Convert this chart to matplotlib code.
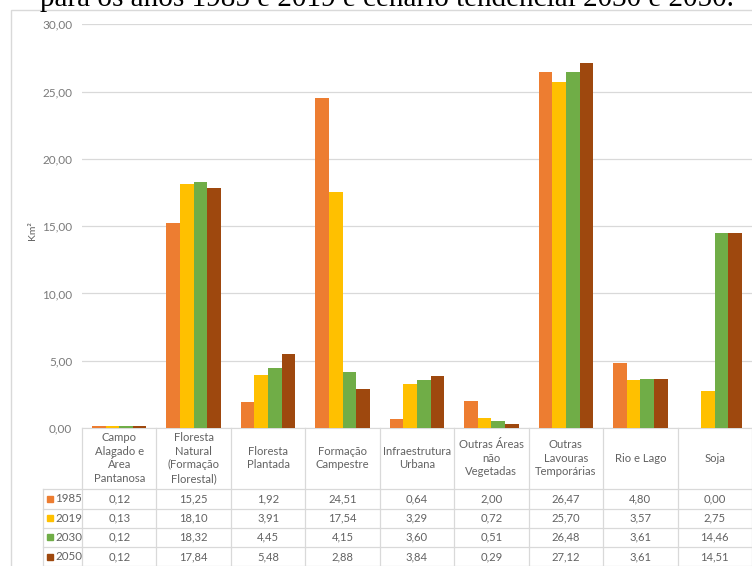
import numpy as np
import matplotlib
matplotlib.use("Agg")
import matplotlib.pyplot as plt
import matplotlib.transforms as mtransforms
from matplotlib.patches import Rectangle

# Land use areas (km2) per class
categories = ['Campo\nAlagado e\nÁrea\nPantanosa', 'Floresta\nNatural\n(Formação\nFlorestal)',
              'Floresta\nPlantada', 'Formação\nCampestre', 'Infraestrutura\nUrbana',
              'Outras Áreas\nnão\nVegetadas', 'Outras\nLavouras\nTemporárias', 'Rio e Lago', 'Soja']
years = ['1985', '2019', '2030', '2050']
v1985 = [0.12, 15.25, 1.92, 24.51, 0.64, 2.00, 26.47, 4.80, 0.00]
v2019 = [0.13, 18.10, 3.91, 17.54, 3.29, 0.72, 25.70, 3.57, 2.75]
v2030 = [0.12, 18.32, 4.45, 4.15, 3.60, 0.51, 26.48, 3.61, 14.46]
v2050 = [0.12, 17.84, 5.48, 2.88, 3.84, 0.29, 27.12, 3.61, 14.51]
series = [v1985, v2019, v2030, v2050]
colors = ['#ED7D31', '#FFC000', '#70AD47', '#9E480E']
title = 'para os anos 1985 e 2019 e cenário tendencial 2030 e 2050.'

W, H = 752, 566
TXT = '#626262'
GRID = '#D9D9D9'
FONT = 'Lato'

fig = plt.figure(figsize=(W / 100, H / 100), dpi=100)
ax = fig.add_axes([82 / W, 1 - 428 / H, 670 / W, (428 - 24.4) / H])

# outer chart frame and the cut-off caption above it
fig.patches.append(Rectangle((11 / W, -0.05), 1.2, 1 - 10 / H + 0.05, transform=fig.transFigure,
                             fill=False, edgecolor=GRID, linewidth=1.0))
fig.text(40 / W, 1 - 6 / H, title, fontsize=21, family='Liberation Serif', va='baseline', color='black')

x = np.arange(len(categories))
bw = 0.183
for i, vals in enumerate(series):
    ax.bar(x + (i - 1.5) * bw, vals, width=bw, color=colors[i], linewidth=0, zorder=3)

ax.set_xlim(-0.5, len(categories) - 0.5)
ax.set_ylim(0, 30)
ax.set_yticks(np.arange(0, 31, 5))
ax.set_yticklabels([f'{t:.2f}'.replace('.', ',') for t in np.arange(0, 31, 5)],
                   fontsize=8.5, color='#7a7a7a', family=FONT)
ax.tick_params(axis='y', length=0, pad=7)
ax.set_xticks([])
ax.grid(axis='y', color=GRID, linewidth=0.9, zorder=0)
for s in ['top', 'right', 'left']:
    ax.spines[s].set_visible(False)
ax.spines['bottom'].set_color(GRID)
ax.set_ylabel('Km²', fontsize=7.5, color=TXT, family=FONT)
ax.yaxis.set_label_coords(-0.067, 0.49)

# data table under the chart (x in data units, y in figure pixels)
tr = mtransforms.blended_transform_factory(ax.transData, fig.transFigure)


def fy(py):
    return 1 - py / H


def px2x(px):
    return (px - 82) / (670 / 9) - 0.5


row_lines = [489, 508.5, 527.5, 547, 566]
xl = px2x(43)
for py in row_lines:
    ax.plot([xl, len(categories) - 0.5], [fy(py)] * 2, color=GRID,
            linewidth=0.9, transform=tr, clip_on=False)
for b in np.arange(len(categories) + 1) - 0.5:
    ax.plot([b, b], [fy(428), fy(570)], color=GRID, linewidth=0.9, transform=tr, clip_on=False)
ax.plot([xl, xl], [fy(489), fy(570)], color=GRID, linewidth=0.9, transform=tr, clip_on=False)

for j, cat in enumerate(categories):
    ax.text(j, fy(458), cat, ha='center', va='center', fontsize=8.1, color=TXT, family=FONT,
            linespacing=1.3, transform=tr, clip_on=False)

for i, vals in enumerate(series):
    yc = fy((row_lines[i] + row_lines[i + 1]) / 2)
    ax.plot([px2x(50)], [yc], marker='s', markersize=4.5, color=colors[i], linewidth=0,
            transform=tr, clip_on=False)
    ax.text(px2x(55), yc, years[i], ha='left', va='center', fontsize=8.3, color=TXT, family=FONT,
            transform=tr, clip_on=False)
    for j, v in enumerate(vals):
        ax.text(j, yc, f'{v:.2f}'.replace('.', ','), ha='center', va='center', fontsize=8.1,
                color=TXT, family=FONT, transform=tr, clip_on=False)

fig.savefig('out.png', dpi=100)
